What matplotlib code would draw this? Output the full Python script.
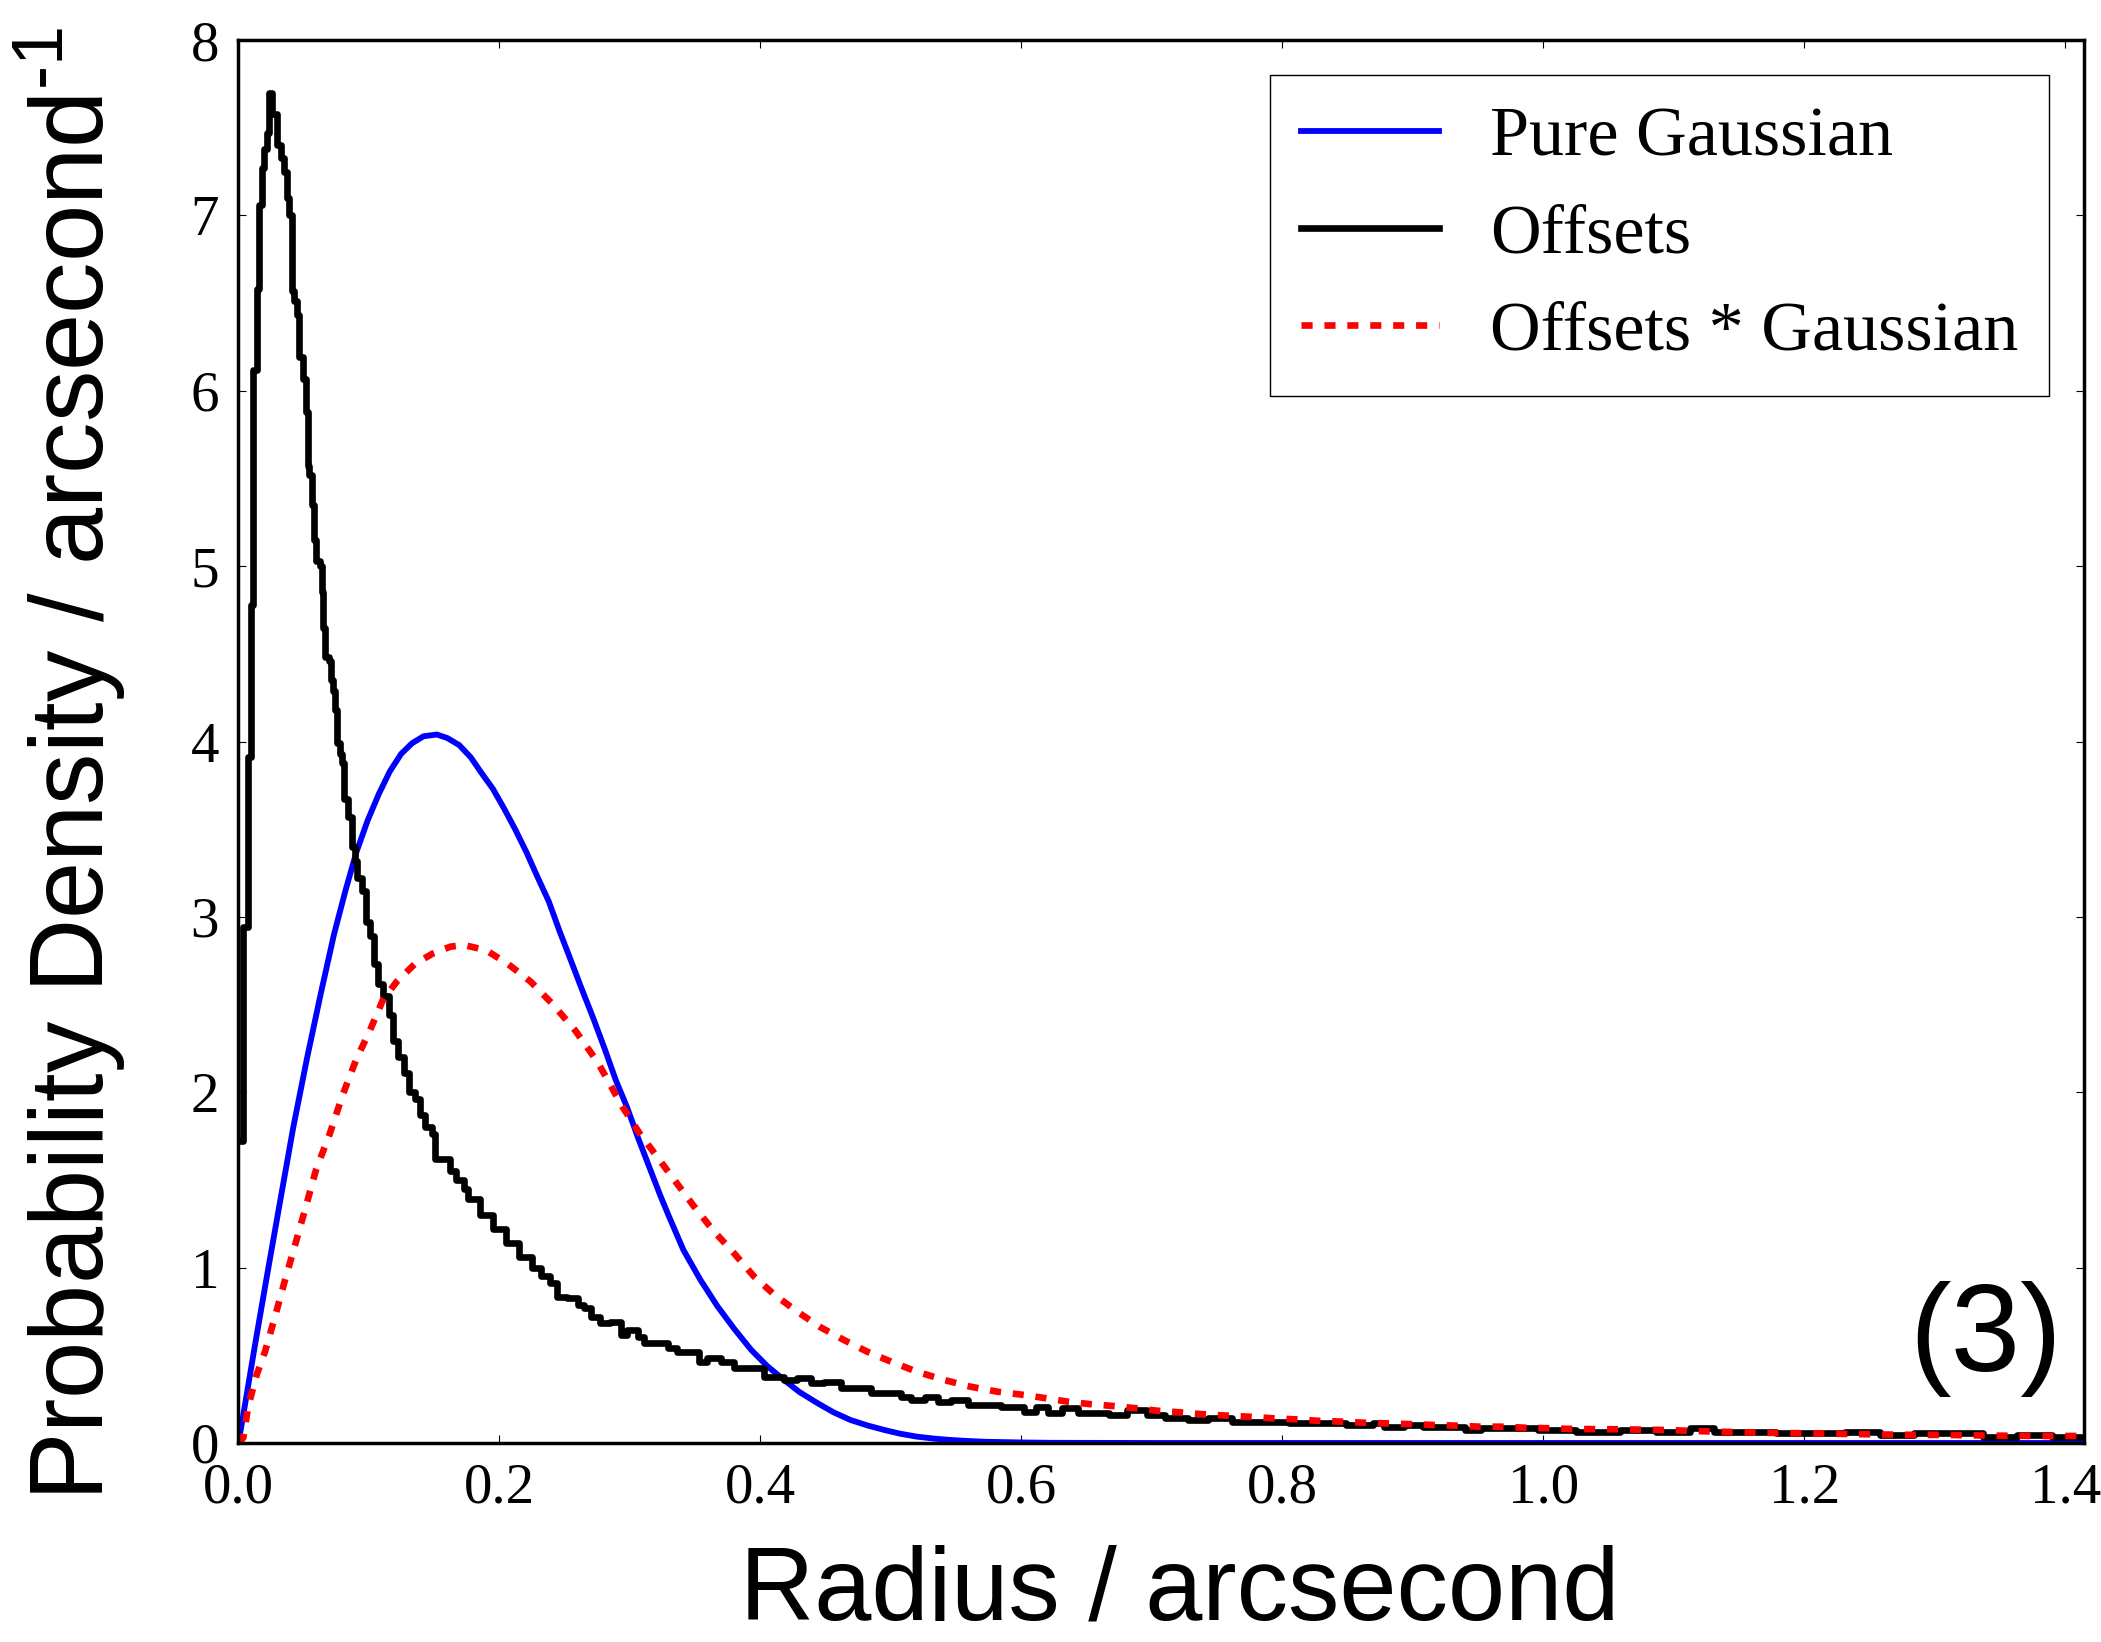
import numpy as np
import matplotlib
matplotlib.use('Agg')
import matplotlib.pyplot as plt

# pure gaussian (radial)
gauss_r = [0.0, 0.0037, 0.0127, 0.022, 0.0322, 0.042, 0.0527, 0.063, 0.0732, 0.082,
           0.0904, 0.099, 0.1075, 0.116, 0.1247, 0.133, 0.1418, 0.152, 0.160, 0.1691,
           0.178, 0.1863, 0.195, 0.2034, 0.212, 0.2206, 0.229, 0.2377, 0.246, 0.2548,
           0.263, 0.272, 0.281, 0.2891, 0.298, 0.3062, 0.315, 0.3233, 0.33, 0.341,
           0.354, 0.367, 0.38, 0.393, 0.405, 0.418, 0.43, 0.444, 0.456, 0.469,
           0.482, 0.495, 0.507, 0.520, 0.533, 0.546, 0.56, 0.572, 0.60, 0.623,
           0.70, 0.80, 1.0, 1.2, 1.4142]
gauss_pdf = [0.0, 0.16, 0.56, 0.96, 1.39, 1.80, 2.20, 2.56, 2.90, 3.15,
             3.37, 3.55, 3.70, 3.83, 3.93, 3.99, 4.03, 4.04, 4.02, 3.98,
             3.91, 3.82, 3.73, 3.62, 3.50, 3.37, 3.23, 3.09, 2.92, 2.75,
             2.59, 2.42, 2.24, 2.07, 1.91, 1.74, 1.57, 1.41, 1.29, 1.10,
             0.93, 0.78, 0.65, 0.53, 0.44, 0.36, 0.29, 0.226, 0.175, 0.131,
             0.10, 0.074, 0.053, 0.036, 0.025, 0.017, 0.011, 0.007, 0.003, 0.001,
             0.0, 0.0, 0.0, 0.0, 0.0]

# offsets histogram (left bin edges, density)
offs_r = [0.0010, 0.0035, 0.0070, 0.0094, 0.0114, 0.0139, 0.0160, 0.0178, 0.0198, 0.0216,
          0.0237, 0.0260, 0.0298, 0.0324, 0.0349, 0.0370, 0.0390, 0.0408, 0.0428, 0.0446,
          0.0467, 0.0492, 0.0516, 0.0531, 0.0541, 0.0567, 0.0579, 0.0592, 0.0625, 0.0638,
          0.0651, 0.0664, 0.0697, 0.0710, 0.0728, 0.0741, 0.0753, 0.0779, 0.0797, 0.0812,
          0.0838, 0.0868, 0.0894, 0.0907, 0.0945, 0.0976, 0.1009, 0.1035, 0.1068, 0.1111,
          0.1150, 0.1188, 0.1226, 0.1265, 0.1303, 0.1355, 0.1393, 0.1431, 0.1483, 0.1503,
          0.1620, 0.1670, 0.1730, 0.1760, 0.1850, 0.1950, 0.2050, 0.2150, 0.2250, 0.2320,
          0.2390, 0.244, 0.252, 0.260, 0.265, 0.270, 0.277, 0.285, 0.293, 0.298,
          0.306, 0.311, 0.321, 0.329, 0.336, 0.347, 0.353, 0.359, 0.370, 0.380,
          0.393, 0.403, 0.418, 0.428, 0.439, 0.449, 0.462, 0.474, 0.485, 0.495,
          0.508, 0.515, 0.526, 0.536, 0.546, 0.559, 0.572, 0.584, 0.602, 0.611,
          0.620, 0.631, 0.643, 0.658, 0.667, 0.681, 0.696, 0.710, 0.728, 0.743,
          0.761, 0.775, 0.790, 0.805, 0.819, 0.834, 0.849, 0.869, 0.878, 0.893,
          0.908, 0.922, 0.940, 0.952, 0.966, 0.981, 0.996, 1.010, 1.025, 1.040,
          1.059, 1.086, 1.112, 1.131, 1.154, 1.178, 1.205, 1.231, 1.258, 1.284,
          1.310, 1.337, 1.363, 1.390, 1.414]
offs_pdf = [1.72, 2.94, 3.91, 4.78, 6.12, 6.58, 7.06, 7.27, 7.38, 7.47,
            7.70, 7.58, 7.40, 7.33, 7.25, 7.10, 7.00, 6.57, 6.51, 6.43,
            6.19, 6.07, 5.88, 5.57, 5.52, 5.35, 5.15, 5.03, 5.00, 4.85,
            4.65, 4.48, 4.46, 4.35, 4.29, 4.18, 3.99, 3.93, 3.88, 3.67,
            3.57, 3.40, 3.32, 3.22, 3.15, 2.97, 2.89, 2.73, 2.62, 2.55,
            2.44, 2.29, 2.20, 2.11, 2.00, 1.96, 1.87, 1.80, 1.76, 1.62,
            1.55, 1.50, 1.45, 1.39, 1.30, 1.22, 1.14, 1.06, 1.00, 0.95,
            0.91, 0.834, 0.825, 0.787, 0.768, 0.72, 0.682, 0.69, 0.616, 0.644,
            0.606, 0.568, 0.568, 0.54, 0.52, 0.52, 0.464, 0.483, 0.464, 0.426,
            0.426, 0.378, 0.359, 0.369, 0.34, 0.35, 0.312, 0.312, 0.283, 0.283,
            0.264, 0.245, 0.264, 0.235, 0.245, 0.217, 0.217, 0.207, 0.178, 0.207,
            0.169, 0.198, 0.169, 0.169, 0.160, 0.188, 0.160, 0.141, 0.131, 0.141,
            0.122, 0.122, 0.122, 0.112, 0.112, 0.112, 0.103, 0.112, 0.093, 0.103,
            0.093, 0.093, 0.074, 0.084, 0.084, 0.084, 0.074, 0.074, 0.065, 0.065,
            0.074, 0.065, 0.084, 0.065, 0.065, 0.055, 0.055, 0.065, 0.046, 0.055,
            0.055, 0.036, 0.046, 0.036, 0.036]

# offsets convolved with gaussian
conv_r = [0.0, 0.0037, 0.0075, 0.014, 0.0203, 0.028, 0.0357, 0.0434, 0.051, 0.0595,
          0.0698, 0.0801, 0.0904, 0.1006, 0.1109, 0.1212, 0.1349, 0.1486, 0.1623, 0.1726,
          0.1897, 0.2068, 0.224, 0.2411, 0.2583, 0.2754, 0.294, 0.307, 0.321, 0.335,
          0.349, 0.364, 0.380, 0.395, 0.410, 0.428, 0.446, 0.464, 0.482, 0.500,
          0.520, 0.541, 0.561, 0.582, 0.602, 0.619, 0.636, 0.652, 0.670, 0.688,
          0.704, 0.721, 0.739, 0.757, 0.774, 0.792, 0.810, 0.826, 0.844, 0.861,
          0.879, 0.896, 0.914, 0.933, 0.951, 0.968, 0.986, 1.004, 1.022, 1.059,
          1.093, 1.131, 1.165, 1.202, 1.237, 1.274, 1.308, 1.345, 1.380, 1.414]
conv_pdf = [0.0, 0.03, 0.21, 0.39, 0.52, 0.72, 0.93, 1.13, 1.33, 1.56,
            1.76, 1.99, 2.19, 2.35, 2.53, 2.63, 2.73, 2.79, 2.83, 2.84,
            2.81, 2.73, 2.63, 2.50, 2.35, 2.17, 1.92, 1.77, 1.63, 1.49,
            1.35, 1.21, 1.08, 0.95, 0.85, 0.75, 0.66, 0.587, 0.52, 0.464,
            0.406, 0.359, 0.321, 0.292, 0.274, 0.255, 0.235, 0.222, 0.211, 0.198,
            0.184, 0.175, 0.164, 0.156, 0.150, 0.141, 0.135, 0.127, 0.122, 0.116,
            0.112, 0.108, 0.103, 0.099, 0.093, 0.093, 0.087, 0.084, 0.080, 0.078,
            0.074, 0.065, 0.059, 0.055, 0.051, 0.047, 0.046, 0.042, 0.040, 0.040]

plt.rcParams['font.family'] = 'Liberation Serif'
plt.rcParams['mathtext.fontset'] = 'custom'
plt.rcParams['mathtext.rm'] = 'Liberation Sans'
plt.rcParams['lines.scale_dashes'] = False

fig = plt.figure(figsize=(21.01, 16.42), dpi=100)
ax = fig.add_axes([0.1135, 0.1212, 0.8784, 0.8544])

ax.plot(gauss_r, gauss_pdf, color='b', lw=4.2, label='Pure Gaussian')
ax.plot(offs_r, offs_pdf, color='k', lw=4.8, drawstyle='steps-post', label='Offsets')
ax.plot(conv_r, conv_pdf, color='r', lw=4.8, ls='--', dashes=(8, 8.5),
        label='Offsets * Gaussian')

ax.set_xlim(0, 1.4142)
ax.set_ylim(0, 8)
ax.set_xticks(np.arange(0, 1.41, 0.2))
ax.set_xticklabels(['%.1f' % t for t in np.arange(0, 1.41, 0.2)])
ax.set_yticks(range(0, 9))

ax.tick_params(direction='in', top=True, right=True, length=6, width=0.8,
               pad=14, labelsize=41)
for s in ax.spines.values():
    s.set_linewidth(2.5)

ax.set_xlabel('Radius / arcsecond', fontsize=74, family='Liberation Sans')
ax.xaxis.set_label_coords(0.51, -0.0722)
ax.set_ylabel('Probability Density / arcsecond$^{\\mathrm{\u20101}}$', fontsize=74,
              family='Liberation Sans')
ax.yaxis.set_label_coords(-0.06, 0.484)

ax.text(0.988, 0.051, '(3)', transform=ax.transAxes, ha='right', va='baseline',
        fontsize=90, family='Liberation Sans')

leg = ax.legend(loc='upper right', fontsize=50.5, fancybox=False, framealpha=1,
                edgecolor='k', borderaxespad=0.5, handlelength=1.97,
                handletextpad=0.72, labelspacing=0.475, borderpad=0.44)
leg.get_frame().set_linewidth(1.0)

fig.savefig('out.png', dpi=100)
